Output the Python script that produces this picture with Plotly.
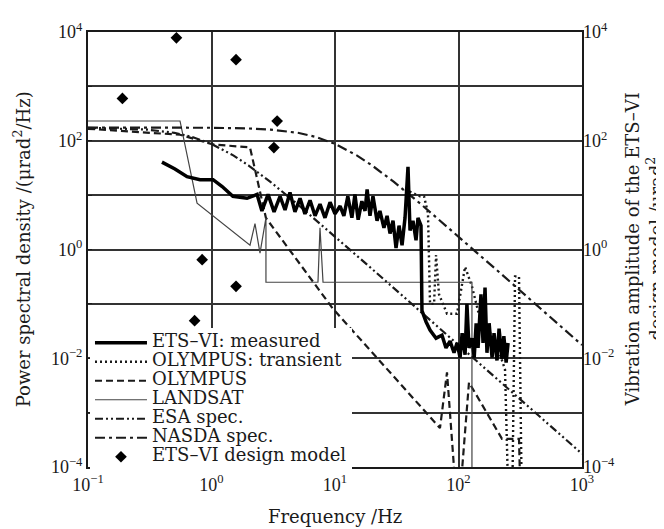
import plotly.graph_objects as go

# ---------------- data ----------------
# ETS-VI measured PSD
meas_f = [0.397, 0.506, 0.634, 0.807, 1.03, 1.22, 1.49, 1.94, 2.34, 2.56, 2.87, 3.21, 3.59, 3.94,
          4.32, 4.74, 5.21, 5.71, 6.28, 6.89, 7.56, 8.30, 9.12, 10.0, 11.0, 11.8, 12.7, 13.7,
          14.5, 15.4, 16.5, 17.5, 18.2, 19.2, 20.3, 21.9, 23.1, 24.9, 26.4, 27.9, 29.5, 31.2,
          33.0, 34.9, 36.9, 39.0, 40.5, 42.8, 45.3, 47.0, 49.7, 50.6, 54.6, 58.8, 65.8, 73.5,
          79.2, 85.4, 92.0, 97.3, 103, 107, 113, 117, 121.6, 128.5, 134, 139, 144, 152, 158,
          164, 170, 177, 187, 194, 205, 213, 225, 233, 243, 252]
meas_v = [40.5, 30.3, 21.8, 19.2, 19.2, 14.4, 9.5, 8.75, 10.3, 5.12, 10.3, 4.91, 9.5, 5.33,
          11.2, 4.91, 8.75, 4.52, 8.05, 4.16, 6.83, 3.83, 7.42, 4.52, 6.29, 4.16, 9.5, 3.83,
          10.3, 3.52, 7.73, 5.12, 12.7, 4.16, 9.5, 3.38, 5.12, 2.5, 4.16, 1.97, 3.38, 1.06,
          2.75, 1.2, 3.83, 33, 2.23, 3.38, 1.48, 3.83, 2.75, 0.075, 0.047, 0.033, 0.0234, 0.0265,
          0.0155, 0.0207, 0.0126, 0.0191, 0.0103, 0.029, 0.0116, 0.1, 0.0155, 0.0234, 0.0103,
          0.044, 0.0155, 0.15, 0.0191, 0.20, 0.0126, 0.044, 0.0103, 0.029, 0.0091, 0.035,
          0.0098, 0.0255, 0.0083, 0.0191]

# OLYMPUS: transient
olt_f = [36.9, 48.8, 52.6, 56.6, 58.8, 63.4, 65.8, 69.5, 80.7, 97.3, 113, 128.5, 149, 198,
         238, 256, 271, 287, 309, 327]
olt_v = [12.7, 9.5, 9.5, 4.7, 0.1, 0.1, 0.79, 0.15, 0.066, 0.066, 0.48, 0.21, 0.054, 0.0216,
         0.0062, 1e-5, 1e-5, 0.32, 0.32, 1e-5]

# OLYMPUS
oly_f = [0.1, 0.556, 1.03, 2.05, 2.76, 9.64, 70.8, 80.7, 99, 121.6, 225, 309, 321]
oly_v = [166, 129, 85.5, 75.5, 3.8, 0.081, 5.2e-4, 0.0055, 1e-5, 0.0036, 3.3e-4, 3.3e-4, 1e-5]

# LANDSAT
lan_f = [0.1, 0.556, 0.764, 2.05, 2.25, 2.47, 2.76, 2.76, 7.28, 7.56, 8.0, 128.5, 128.5]
lan_v = [231, 231, 7.1, 1.2, 3.0, 0.86, 3.8, 0.25, 0.25, 2.5, 0.25, 0.25, 1e-5]

# ESA spec.
esa_f = [0.1, 0.3, 0.5, 0.7, 1, 1.5, 2, 3, 5, 10, 20, 50, 100, 200, 500, 1000]
esa_v = [173, 160.6, 140, 117.4, 87.5, 53.8, 35, 17.5, 6.73, 1.73, 0.436, 0.07, 0.0175,
         0.00437, 0.0007, 0.000175]

# NASDA spec.
nas_f = [0.1, 0.5, 1, 2, 3, 5, 7, 10, 15, 20, 30, 50, 100, 200, 500, 1000]
nas_v = [175, 174.6, 173.3, 168.3, 160.6, 140, 117.4, 87.5, 53.8, 35, 17.5, 6.73, 1.73,
         0.436, 0.07, 0.0175]

# ETS-VI design model (right axis)
dm_f = [0.19, 0.52, 1.58, 3.4, 3.2, 0.84, 1.58, 0.73]
dm_v = [600, 7800, 3100, 230, 75, 0.65, 0.21, 0.049]

# tick labels
x_tickvals = [0.1, 1, 10, 100, 1000]
x_ticktext = ["10<sup>−1</sup>", "10<sup>0</sup>", "10<sup>1</sup>", "10<sup>2</sup>", "10<sup>3</sup>"]
y_tickvals = [1e-4, 1e-3, 1e-2, 1e-1, 1, 10, 100, 1e3, 1e4]
y_ticktext = ["10<sup>−4</sup>", "", "10<sup>−2</sup>", "", "10<sup>0</sup>", "",
              "10<sup>2</sup>", "", "10<sup>4</sup>"]

names = ["ETS–VI: measured", "OLYMPUS: transient", "OLYMPUS", "LANDSAT",
         "ESA spec.", "NASDA spec.", "ETS–VI design model"]

# ---------------- figure ----------------
INK = "#1a1a1a"
SERIF = "DejaVu Serif"
TICKFONT = dict(family="Liberation Serif", size=18, color=INK)


def lbl(s):
    return '<span style="font-size:18px">' + s + '</span>'


fig = go.Figure()
fig.add_trace(go.Scatter(x=olt_f, y=olt_v, mode="lines", name=lbl(names[1]), legendrank=2,
                         line=dict(color=INK, width=2.4, dash="2px,3px")))
fig.add_trace(go.Scatter(x=oly_f, y=oly_v, mode="lines", name=lbl(names[2]), legendrank=3,
                         line=dict(color=INK, width=2.2, dash="7px,4px")))
fig.add_trace(go.Scatter(x=lan_f, y=lan_v, mode="lines", name=lbl(names[3]), legendrank=4,
                         line=dict(color="#444444", width=1.2)))
fig.add_trace(go.Scatter(x=esa_f, y=esa_v, mode="lines", name=lbl(names[4]), legendrank=5,
                         line=dict(color=INK, width=2.2, dash="8px,3px,2px,3px,2px,3px")))
fig.add_trace(go.Scatter(x=nas_f, y=nas_v, mode="lines", name=lbl(names[5]), legendrank=6,
                         line=dict(color=INK, width=2.2, dash="10px,4px,3px,4px")))
fig.add_trace(go.Scatter(x=meas_f, y=meas_v, mode="lines", name=lbl(names[0]), legendrank=1,
                         line=dict(color="#000000", width=3.5)))
fig.add_trace(go.Scatter(x=dm_f, y=dm_v, mode="markers", name=lbl(names[6]), legendrank=7,
                         yaxis="y2",
                         marker=dict(symbol="diamond", size=9, color="#000000")))

# the page adds an 8 px body margin, so the figure is sized/offset to compensate
fig.update_layout(
    width=656, height=521,
    margin=dict(l=80, r=82, t=14, b=62),
    paper_bgcolor="white", plot_bgcolor="white",
    font=dict(family=SERIF, size=18, color=INK),
    showlegend=True,
    legend=dict(x=0.004, y=0.319, xanchor="left", yanchor="top",
                bgcolor="white", borderwidth=0, itemwidth=52,
                font=dict(family=SERIF, size=12, color=INK),
                traceorder="normal"),
    xaxis=dict(type="log", range=[-1, 3], tickvals=x_tickvals, ticktext=x_ticktext,
               tickfont=TICKFONT, showgrid=True, gridcolor="#333333", gridwidth=1.5,
               showline=True, linecolor=INK, linewidth=2, mirror=True,
               ticks="", zeroline=False),
    yaxis=dict(type="log", range=[-4, 4], tickvals=y_tickvals, ticktext=y_ticktext,
               tickfont=TICKFONT, showgrid=True, gridcolor="#333333", gridwidth=1.5,
               showline=True, linecolor=INK, linewidth=2, mirror=True,
               ticks="inside", ticklen=4, tickcolor=INK, zeroline=False),
    yaxis2=dict(type="log", range=[-4, 4], overlaying="y", side="right",
                tickvals=y_tickvals, ticktext=y_ticktext, tickfont=TICKFONT,
                showgrid=False, showline=False, ticks="", zeroline=False),
    annotations=[
        dict(text="Power spectral density /(μrad<sup>2</sup>/Hz)", xref="paper", yref="paper",
             x=-0.134, y=0.5, xanchor="center", yanchor="middle", textangle=-90,
             showarrow=False, font=dict(family=SERIF, size=18, color=INK)),
        dict(text="Vibration amplitude of the ETS–VI<br>design model /μrad<sup>2</sup>",
             xref="paper", yref="paper", x=1.125, y=0.5, xanchor="center", yanchor="middle",
             textangle=-90, showarrow=False, font=dict(family=SERIF, size=18, color=INK)),
        dict(text="Frequency /Hz", xref="paper", yref="paper", x=0.5, y=-0.113,
             xanchor="center", yanchor="middle", showarrow=False,
             font=dict(family=SERIF, size=18, color=INK)),
    ],
)

fig.write_html("out.html")
